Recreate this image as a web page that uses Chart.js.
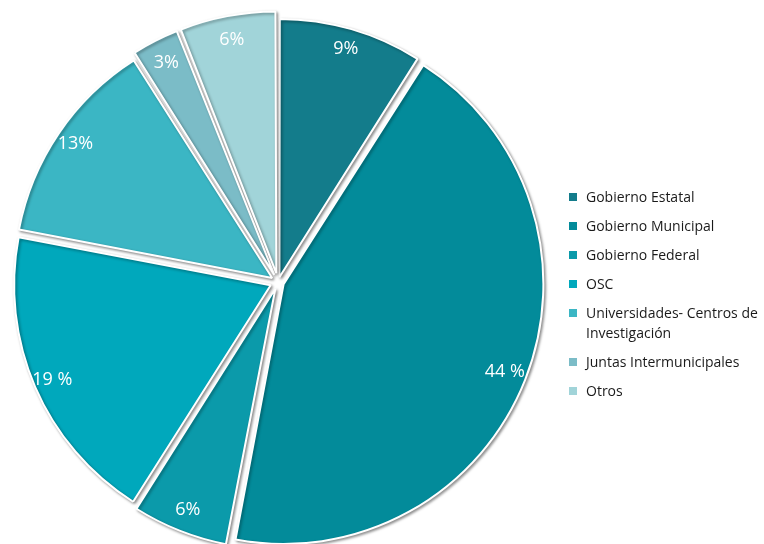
<!DOCTYPE html>
<html>
<head>
<meta charset="utf-8">
<script src="https://cdn.jsdelivr.net/npm/chart.js@4.4.1/dist/chart.umd.min.js"></script>
<style>
  html, body { margin: 0; padding: 0; background: #fff; }
  #wrap { position: relative; width: 764px; height: 544px; overflow: hidden; }
  #legend { position: absolute; left: 569px; top: 187px; margin: 0; padding: 0; list-style: none;
            font-family: 'Open Sans', sans-serif; font-size: 14px; color: #1a1a1a; }
  #legend li { position: relative; padding-left: 17px; line-height: 20px; margin-bottom: 9px; white-space: pre-line; }
  #legend li span { position: absolute; left: 0; top: 6px; width: 8px; height: 8px; }
</style>
</head>
<body>
<div id="wrap">
  <canvas id="pie" width="764" height="544"></canvas>
  <ul id="legend"></ul>
</div>
<script>
// chart data
const categories = ['Gobierno Estatal', 'Gobierno Municipal', 'Gobierno Federal', 'OSC',
                    'Universidades- Centros de\nInvestigación', 'Juntas Intermunicipales', 'Otros'];
const values = [9, 44, 6, 19, 13, 3, 6];
const valueLabels = ['9%', '44 %', '6%', '19 %', '13%', '3%', '6%'];
const colors = ['#137c8b', '#038b9a', '#0b9aaa', '#00a8bc', '#3bb6c4', '#7bbcc7', '#a1d4d9'];
const offsets = [20, 24, 28, 32, 28, 32, 36];

// build legend
const legend = document.getElementById('legend');
categories.forEach((name, i) => {
    const li = document.createElement('li');
    const box = document.createElement('span');
    box.style.background = colors[i];
    li.appendChild(box);
    li.appendChild(document.createTextNode(name));
    legend.appendChild(li);
});

// soft shadow under the slices
const shadowPlugin = {
    id: 'shadow',
    beforeDatasetsDraw(chart) {
        const ctx = chart.ctx;
        ctx.save();
        ctx.shadowColor = 'rgba(0,0,0,0.4)';
        ctx.shadowBlur = 3;
        ctx.shadowOffsetX = 1.5;
        ctx.shadowOffsetY = 1.5;
    },
    afterDatasetsDraw(chart) {
        chart.ctx.restore();
    }
};

// percentage text near the outer edge
const labelPlugin = {
    id: 'pctLabels',
    afterDraw(chart) {
        const ctx = chart.ctx;
        const meta = chart.getDatasetMeta(0);
        ctx.save();
        ctx.fillStyle = '#ffffff';
        ctx.font = '18px "Open Sans", sans-serif';
        ctx.textAlign = 'center';
        ctx.textBaseline = 'middle';
        meta.data.forEach((arc, i) => {
            const p = arc.getProps(['x', 'y', 'startAngle', 'endAngle', 'outerRadius']);
            const mid = (p.startAngle + p.endAngle) / 2;
            const r = p.outerRadius - 18 + offsets[i] / 4;
            ctx.fillText(valueLabels[i], p.x + Math.cos(mid) * r, p.y + Math.sin(mid) * r);
        });
        ctx.restore();
    }
};

new Chart(document.getElementById('pie'), {
    type: 'pie',
    data: {
        labels: categories,
        datasets: [{
            data: values,
            backgroundColor: colors,
            borderColor: '#ffffff',
            borderWidth: 2,
            offset: offsets
        }]
    },
    options: {
        responsive: false,
        animation: false,
        events: [],
        radius: 256,
        layout: { padding: { left: 0, right: 208, top: 20, bottom: 0 } },
        plugins: {
            legend: { display: false },
            tooltip: { enabled: false }
        }
    },
    plugins: [shadowPlugin, labelPlugin]
});
</script>
</body>
</html>
